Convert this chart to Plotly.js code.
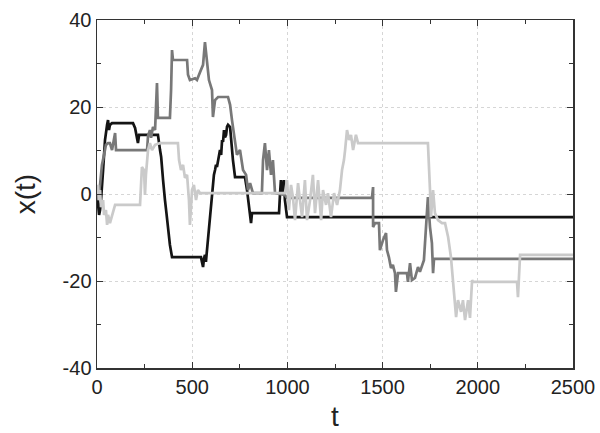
<!DOCTYPE html>
<html>
<head>
<meta charset="utf-8">
<script src="https://cdn.plot.ly/plotly-3.0.1.min.js"></script>
<style>html,body{margin:0;padding:0;background:#fff;}#chart{width:600px;height:433px;}</style>
</head>
<body>
<div id="chart"></div>
<script>
// Series 1 (black)
const blackT = [0,5,11,16,21,32,42,53,58,63,68,79,189,200,205,215,221,320,331,337,347,352,357,365,373,378,383,394,546,551,557,562,567,572,578,583,588,593,599,604,609,614,620,625,630,636,641,646,652,657,662,667,672,678,683,688,699,704,714,725,777,788,798,809,814,956,961,966,977,982,987,998,2500];
const blackY = [0,-2.5,-4.8,-3.7,-1.4,5.5,12.4,15.9,17.0,14.7,15.9,16.3,16.3,15.2,14.0,11.7,13.6,13.6,10.1,8.5,3.2,1.5,-1.4,-4.5,-8.3,-9.5,-11.7,-14.5,-14.5,-15.6,-16.8,-14.8,-14.0,-15.6,-12.5,-10.6,-9.0,-6.0,-3.0,0.9,2.0,4.4,5.5,6.7,6.2,7.8,9.5,10.1,9.0,12.4,12.0,14.7,13.0,13.6,15.5,15.9,15.4,12.4,7.8,3.9,3.9,0.9,-2.5,-6.7,-4.4,-4.4,-0.2,3.2,-0.2,3.2,-1.4,-5.3,-5.3];

// Series 2 (dark grey)
const darkT = [0,5,16,26,37,47,58,68,79,89,95,100,263,268,278,284,294,305,310,315,320,383,389,394,399,473,478,488,515,525,541,557,567,578,588,604,609,620,636,688,699,709,725,735,751,767,783,793,804,819,866,872,882,893,903,914,924,935,987,998,1444,1450,1450,1460,1481,1486,1502,1518,1523,1533,1544,1554,1565,1570,1581,1628,1633,1644,1654,1670,1686,1696,1717,1728,1738,1749,1759,1765,1770,2500];
const darkY = [0,-1.4,2.1,6.7,9.0,11.3,11.7,11.7,10.1,12.9,14.0,10.1,10.1,13.4,14.7,12.9,15.4,14.7,21.6,25.5,17.5,17.5,23.9,33.1,30.8,30.8,27.4,26.2,26.6,26.2,28.0,29.7,34.9,30.8,26.2,23.9,17.7,21.6,22.3,22.3,20.5,17.0,12.4,9.0,10.1,5.5,4.4,0.9,2.5,0.2,0.2,7.8,11.7,5.5,10.1,4.4,7.8,0.2,-0.2,-0.9,-0.9,1.6,-7.6,-6.7,-6.7,-12.9,-10.6,-9.0,-12.9,-14.5,-17.0,-16.3,-18.2,-22.5,-18.2,-18.2,-20.2,-15.9,-19.8,-19.3,-16.8,-17.9,-15.2,-7.6,-0.7,-7.6,-11.3,-18.2,-14.9,-14.9];

// Series 3 (light grey)
const lightT = [0,5,11,16,21,32,37,47,53,58,68,79,89,95,226,231,236,247,252,257,268,278,289,305,331,425,431,441,452,462,473,483,488,499,509,520,530,541,987,998,1008,1019,1029,1040,1050,1056,1066,1077,1092,1103,1119,1134,1145,1161,1177,1187,1203,1213,1229,1245,1261,1276,1287,1297,1303,1313,1324,1334,1345,1360,1371,1738,1749,1754,1765,1775,1791,1812,1828,1844,1859,1870,1886,1896,1912,1922,1933,1949,1959,1970,1975,2206,2211,2222,2500];
const lightY = [0,2.1,-1.4,0.9,-3.0,-1.4,-4.8,-3.7,-7.1,-4.8,-6.7,-4.8,-3.2,-2.5,-2.5,3.2,6.2,5.5,-0.2,4.4,10.1,11.7,10.1,11.3,11.7,11.7,7.8,5.5,6.7,3.7,4.4,-1.4,-7.1,0.9,2.1,-1.4,0.9,0.2,0.2,3.2,-3.7,2.1,-0.7,-6.0,-1.4,2.5,-1.4,-5.3,3.2,-6.0,-1.4,4.4,-4.4,3.2,-6.0,0.9,-2.5,0.2,-5.3,0.2,-2.5,0.9,5.5,7.8,10.1,14.7,12.4,13.6,10.1,13.6,11.7,11.7,0.9,-5.3,0.9,-4.4,-6.0,-6.7,-6.7,-9.9,-14.5,-20.5,-28.3,-24.4,-27.1,-24.4,-29.0,-24.4,-28.5,-19.8,-20.2,-20.2,-23.7,-14.0,-14.0];

// Axis ticks
const xTickVals = [0,500,1000,1500,2000,2500];
const xTickText = ['0','500','1000','1500','2000','2500'];
const yTickVals = [-40,-20,0,20,40];
const yTickText = ['-40','-20','0','20','40'];

const font = 'Liberation Sans, Arial, Helvetica, sans-serif';

const traces = [
  {x: blackT, y: blackY, mode: 'lines', line: {color: '#141414', width: 2.7}},
  {x: darkT, y: darkY, mode: 'lines', line: {color: '#787878', width: 2.7}},
  {x: lightT, y: lightY, mode: 'lines', line: {color: '#cacaca', width: 2.7}}
];

const axisCommon = {
  showline: true, linecolor: '#333', linewidth: 1.5, mirror: 'allticks',
  ticks: 'inside', ticklen: 6, tickwidth: 1, tickcolor: '#333',
  showgrid: true, gridcolor: '#d6d6d6', gridwidth: 1, griddash: '3px,3px',
  zeroline: false,
  tickfont: {family: font, size: 20, color: '#222'}
};

const layout = {
  width: 600, height: 433,
  margin: {l: 97, r: 27, t: 20, b: 65},
  paper_bgcolor: '#fff', plot_bgcolor: '#fff',
  showlegend: false,
  xaxis: Object.assign({}, axisCommon, {
    range: [0, 2500], tickmode: 'array', tickvals: xTickVals, ticktext: xTickText,
    minor: {ticks: 'inside', tickvals: [250,750,1250,1750,2250], ticklen: 4, tickcolor: '#333', showgrid: false},
    title: {text: 't', font: {family: font, size: 28, color: '#222'}, standoff: 10}
  }),
  yaxis: Object.assign({}, axisCommon, {
    range: [-40, 40], tickmode: 'array', tickvals: yTickVals, ticktext: yTickText,
    minor: {ticks: 'inside', tickvals: [-30,-10,10,30], ticklen: 4, tickcolor: '#333', showgrid: false},
    title: {text: 'x(t)', font: {family: font, size: 28, color: '#222'}, standoff: 19}
  })
};

Plotly.newPlot('chart', traces, layout, {staticPlot: true, displayModeBar: false});
</script>
</body>
</html>
